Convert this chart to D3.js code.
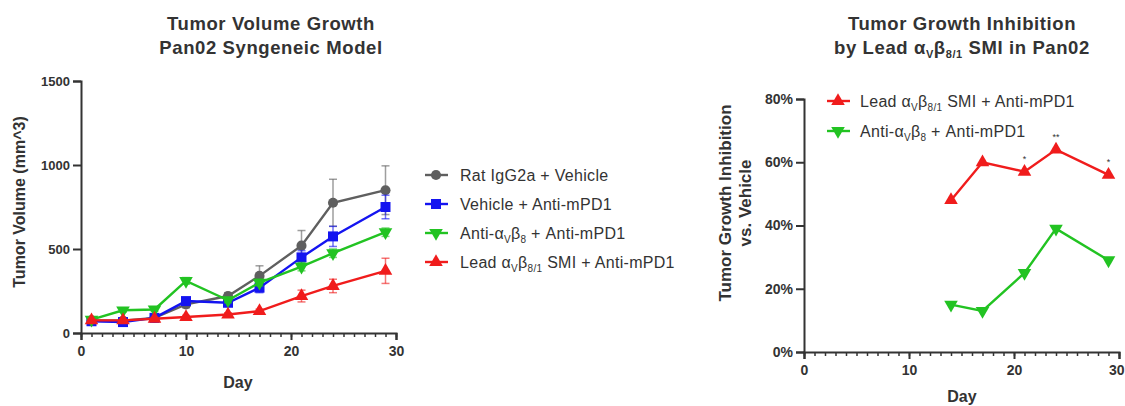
<!DOCTYPE html>
<html>
<head>
<meta charset="utf-8">
<script src="https://cdn.jsdelivr.net/npm/d3@7"></script>
<style>
  body { margin: 0; background: #fff; }
  svg text { font-family: "Liberation Sans", Arial, sans-serif; fill: #333; }
</style>
</head>
<body>
<div class="chart"></div>
<script>
// data
const days = [1, 4, 7, 10, 14, 17, 21, 24, 29];
const ratIgg = [75, 73, 90, 170, 220, 340, 520, 775, 850];
const ratIggErr = [8, 8, 10, 20, 20, 60, 90, 140, 145];
const vehPd1 = [70, 65, 90, 190, 180, 270, 450, 575, 750];
const vehPd1Err = [8, 8, 10, 20, 20, 30, 40, 60, 70];
const antiB8 = [80, 135, 140, 310, 195, 300, 395, 475, 600];
const antiB8Err = [8, 10, 10, 20, 15, 20, 25, 25, 25];
const leadSmi = [75, 75, 85, 95, 110, 130, 220, 280, 370];
const leadSmiErr = [8, 8, 8, 10, 10, 12, 35, 40, 75];

const tgiDays = [14, 17, 21, 24, 29];
const tgiLead = [0.48, 0.60, 0.57, 0.64, 0.56];
const tgiAnti = [0.15, 0.13, 0.25, 0.39, 0.29];
const tgiStars = ['', '', '*', '**', '*'];

const volTicks = [0, 500, 1000, 1500];
const pctTicks = [0, 0.2, 0.4, 0.6, 0.8];
const dayTicks = [0, 10, 20, 30];

const colors = {gray: '#5f5f5f', blue: '#1414f0', green: '#22c322', red: '#f01c1c'};

const svg = d3.select('.chart').append('svg')
    .attr('width', 1125)
    .attr('height', 406);

const symbols = {
  circle: d3.symbol(d3.symbolCircle, 80),
  square: d3.symbol(d3.symbolSquare, 100),
  triUp: d3.symbol(d3.symbolTriangle, 80),
};

function drawMarker(g, type, x, y, color) {
  return g.append('path')
      .attr('d', symbols[type === 'triDown' ? 'triUp' : type]())
      .attr('fill', color)
      .attr('transform', `translate(${x},${y})` + (type === 'triDown' ? ' rotate(180)' : ''));
}

function drawDayAxis(g, x, yPos) {
  g.append('g')
      .attr('transform', `translate(0,${yPos})`)
      .call(d3.axisBottom(x).tickValues(d3.range(0, 31)).tickSize(4).tickFormat(''))
      .call(a => a.select('.domain').remove())
      .call(a => a.selectAll('line').attr('stroke', '#333').attr('stroke-width', 1.5));
  return g.append('g')
      .attr('transform', `translate(0,${yPos})`)
      .call(d3.axisBottom(x).tickValues(dayTicks).tickSize(7).tickPadding(6))
      .call(a => a.select('.domain').attr('stroke', '#333').attr('stroke-width', 2))
      .call(a => a.selectAll('line').attr('stroke', '#333').attr('stroke-width', 2))
      .call(a => a.selectAll('text').attr('font-size', 14).attr('font-weight', 'bold'));
}

function drawYAxis(g, y, xPos, ticks, fmt, size) {
  g.append('g')
      .attr('transform', `translate(${xPos},0)`)
      .call(d3.axisLeft(y).tickValues(ticks).tickSize(8).tickPadding(3).tickFormat(fmt))
      .call(a => a.select('.domain').attr('stroke', '#333').attr('stroke-width', 2))
      .call(a => a.selectAll('line').attr('stroke', '#333').attr('stroke-width', 2))
      .call(a => a.selectAll('text').attr('font-size', size).attr('font-weight', 'bold'));
}

// label with alpha/beta subscripts
function richLabel(text, parts, subSize) {
  parts.forEach(p => {
    const t = text.append('tspan').text(p.t);
    if (p.sub) t.attr('font-size', subSize).attr('dy', 4);
    if (p.back) t.attr('dy', -4);
  });
}

function title(g, x, lines) {
  lines.forEach((parts, i) => {
    const t = g.append('text').attr('x', x).attr('y', 30 + i * 24)
        .attr('text-anchor', 'middle').attr('font-size', 18.5)
        .attr('letter-spacing', 0.6).attr('font-weight', 'bold');
    richLabel(t, parts, 11);
  });
}

// ---------- left chart: tumor volume ----------
const x1 = d3.scaleLinear().domain([0, 30]).range([81, 396]);
const y1 = d3.scaleLinear().domain([0, 1500]).range([333, 81]);
const left = svg.append('g');

title(left, 271, [[{t: 'Tumor Volume Growth'}], [{t: 'Pan02 Syngeneic Model'}]]);
left.append('text')
    .attr('transform', 'translate(25,202) rotate(-90)')
    .attr('text-anchor', 'middle').attr('font-size', 16).attr('font-weight', 'bold')
    .text('Tumor Volume (mm^3)');
left.append('text').attr('x', 238).attr('y', 388).attr('text-anchor', 'middle')
    .attr('font-size', 16).attr('font-weight', 'bold').text('Day');

const volSeries = [
  {vals: ratIgg, err: ratIggErr, color: colors.gray, marker: 'circle',
   label: [{t: 'Rat IgG2a + Vehicle'}]},
  {vals: vehPd1, err: vehPd1Err, color: colors.blue, marker: 'square',
   label: [{t: 'Vehicle + Anti-mPD1'}]},
  {vals: antiB8, err: antiB8Err, color: colors.green, marker: 'triDown',
   label: [{t: 'Anti-α'}, {t: 'V', sub: true}, {t: 'β', back: true}, {t: '8', sub: true}, {t: ' + Anti-mPD1', back: true}]},
  {vals: leadSmi, err: leadSmiErr, color: colors.red, marker: 'triUp',
   label: [{t: 'Lead α'}, {t: 'V', sub: true}, {t: 'β', back: true}, {t: '8/1', sub: true}, {t: ' SMI + Anti-mPD1', back: true}]},
];

const line1 = d3.line().x((d, i) => x1(days[i])).y(d => y1(d));

volSeries.forEach(s => {
  const g = left.append('g');
  // error bars (mean +/- sem)
  s.vals.forEach((v, i) => {
    const cx = x1(days[i]);
    g.append('line').attr('x1', cx).attr('x2', cx)
        .attr('y1', y1(v - s.err[i])).attr('y2', y1(v + s.err[i]))
        .attr('stroke', s.color).attr('stroke-width', 1.5).attr('opacity', 0.6);
    [v - s.err[i], v + s.err[i]].forEach(e => {
      g.append('line').attr('x1', cx - 4).attr('x2', cx + 4)
          .attr('y1', y1(e)).attr('y2', y1(e))
          .attr('stroke', s.color).attr('stroke-width', 1.5).attr('opacity', 0.6);
    });
  });
  g.append('path').datum(s.vals).attr('d', line1)
      .attr('fill', 'none').attr('stroke', s.color).attr('stroke-width', 2.4);
  s.vals.forEach((v, i) => drawMarker(g, s.marker, x1(days[i]), y1(v), s.color));
});

drawDayAxis(left, x1, 333);
drawYAxis(left, y1, 81, volTicks, d3.format('d'), 13);

// left legend
volSeries.forEach((s, i) => {
  const ly = 175 + i * 29;
  left.append('line').attr('x1', 425).attr('x2', 448).attr('y1', ly).attr('y2', ly)
      .attr('stroke', s.color).attr('stroke-width', 2.4);
  drawMarker(left, s.marker, 436, ly, s.color);
  const t = left.append('text').attr('x', 460).attr('y', ly + 5.5)
      .attr('font-size', 16).attr('letter-spacing', 0.3);
  richLabel(t, s.label, 10);
});

// ---------- right chart: growth inhibition ----------
const x2 = d3.scaleLinear().domain([0, 30]).range([804, 1119]);
const y2 = d3.scaleLinear().domain([0, 0.8]).range([352, 99]);
const right = svg.append('g');

title(right, 962, [
  [{t: 'Tumor Growth Inhibition'}],
  [{t: 'by Lead α'}, {t: 'V', sub: true}, {t: 'β', back: true}, {t: '8/1', sub: true}, {t: ' SMI in Pan02', back: true}],
]);

right.append('text')
    .attr('transform', 'translate(731,203) rotate(-90)')
    .attr('text-anchor', 'middle').attr('font-size', 17).attr('font-weight', 'bold')
    .text('Tumor Growth Inhibition');
right.append('text')
    .attr('transform', 'translate(751,203) rotate(-90)')
    .attr('text-anchor', 'middle').attr('font-size', 17).attr('font-weight', 'bold')
    .text('vs. Vehicle');
right.append('text').attr('x', 962).attr('y', 402).attr('text-anchor', 'middle')
    .attr('font-size', 16).attr('font-weight', 'bold').text('Day');

const tgiSeries = [
  {vals: tgiLead, color: colors.red, marker: 'triUp',
   label: [{t: 'Lead α'}, {t: 'V', sub: true}, {t: 'β', back: true}, {t: '8/1', sub: true}, {t: ' SMI + Anti-mPD1', back: true}]},
  {vals: tgiAnti, color: colors.green, marker: 'triDown',
   label: [{t: 'Anti-α'}, {t: 'V', sub: true}, {t: 'β', back: true}, {t: '8', sub: true}, {t: ' + Anti-mPD1', back: true}]},
];

const line2 = d3.line().x((d, i) => x2(tgiDays[i])).y(d => y2(d));

tgiSeries.forEach(s => {
  const g = right.append('g');
  g.append('path').datum(s.vals).attr('d', line2)
      .attr('fill', 'none').attr('stroke', s.color).attr('stroke-width', 2.4);
  s.vals.forEach((v, i) => drawMarker(g, s.marker, x2(tgiDays[i]), y2(v), s.color));
});

// significance marks above the lead series
tgiStars.forEach((st, i) => {
  if (!st) return;
  right.append('text').attr('x', x2(tgiDays[i])).attr('y', y2(tgiLead[i]) - 10)
      .attr('text-anchor', 'middle').attr('font-size', 9).attr('fill', '#666').text(st);
});

const rAxis = drawDayAxis(right, x2, 352);
// the last label sits at the page edge: keep it inside
rAxis.selectAll('.tick').filter(d => d === 30).select('text')
    .attr('text-anchor', 'end').attr('dx', 5);
drawYAxis(right, y2, 804, pctTicks, d3.format('.0%'), 14);

tgiSeries.forEach((s, i) => {
  const ly = 101 + i * 30;
  right.append('line').attr('x1', 827).attr('x2', 850).attr('y1', ly).attr('y2', ly)
      .attr('stroke', s.color).attr('stroke-width', 2.4);
  drawMarker(right, s.marker, 838, ly, s.color);
  const t = right.append('text').attr('x', 860).attr('y', ly + 5.5)
      .attr('font-size', 16).attr('letter-spacing', 0.3);
  richLabel(t, s.label, 10);
});
</script>
</body>
</html>
